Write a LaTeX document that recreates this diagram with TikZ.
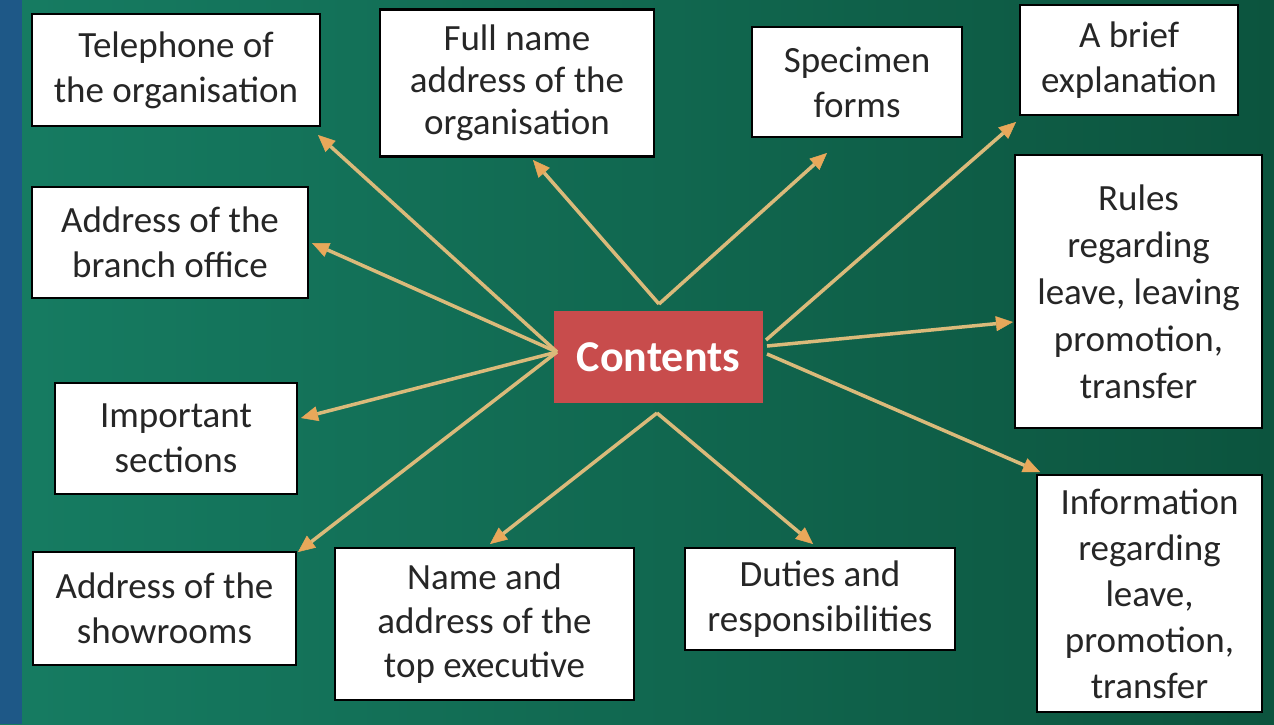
\documentclass[tikz,border=0pt]{standalone}
\usepackage{fontspec}
\setmainfont{Carlito}
\usetikzlibrary{arrows.meta}
\definecolor{bgL}{RGB}{22,124,98}
\definecolor{bgR}{RGB}{12,84,62}
\definecolor{stripc}{RGB}{30,88,135}
\definecolor{arrowc}{RGB}{218,186,122}
\definecolor{tipc}{RGB}{232,168,90}
\definecolor{redc}{RGB}{200,76,76}
\begin{document}
\begin{tikzpicture}[x=1pt,y=-1pt,
  box/.style={draw=black, line width=2.5pt, fill=white, align=center, text=black!85,
    font=\fontsize{37}{45}\selectfont, inner sep=0pt},
  conn/.style={draw=arrowc, line width=3.5pt,
    -{Triangle[length=17pt,width=15pt,color=tipc,fill=tipc,line width=0.5pt]}}]
\useasboundingbox (0,0) rectangle (1274,724);
\shade[left color=bgL, right color=bgR] (0,0) rectangle (1274,724);
\fill[stripc] (0,0) rectangle (22,724);
% nodes
\node[box, minimum width=288, minimum height=112] (tel) at (176,70) {Telephone of\\the organisation};
\node[box, minimum width=274, minimum height=147, font=\fontsize{37}{42}\selectfont] (full) at (517,83) {Full name\\address of the\\organisation};
\node[box, minimum width=210, minimum height=110] (spec) at (857,82) {Specimen\\forms};
\node[box, minimum width=218, minimum height=110] (brief) at (1129,60) {A brief\\explanation};
\node[box, minimum width=276, minimum height=111] (branch) at (170,242.5) {Address of the\\branch office};
\node[box, minimum width=247, minimum height=273, font=\fontsize{37}{47}\selectfont] (rules) at (1138.5,291.5) {Rules\\regarding\\leave, leaving\\promotion,\\transfer};
\node[box, minimum width=242, minimum height=111] (imp) at (176,438.5) {Important\\sections};
\node[fill=redc, minimum width=209, minimum height=92, inner sep=0pt, text=white,
  font=\fontsize{44}{50}\selectfont\bfseries] (contents) at (658.5,357) {Contents};
\node[box, minimum width=263, minimum height=113] (show) at (164.5,608.5) {Address of the\\showrooms};
\node[box, minimum width=299, minimum height=152, font=\fontsize{37}{44}\selectfont] (exec) at (484.5,624) {Name and\\address of the\\top executive};
\node[box, minimum width=270, minimum height=102] (duties) at (820,599) {Duties and\\responsibilities};
\node[box, minimum width=225, minimum height=237, font=\fontsize{37}{46}\selectfont] (info) at (1149.5,593.5) {Information\\regarding\\leave,\\promotion,\\transfer};
% arrow start and end points
\coordinate (cl) at (557,352);
\coordinate (ct) at (659,304);
\coordinate (cb) at (657,413);
\coordinate (cr1) at (766,340);
\coordinate (cr2) at (767,346);
\coordinate (cr3) at (767,354);
\coordinate (tTel) at (318,135);
\coordinate (tBranch) at (312,243);
\coordinate (tImp) at (301,418);
\coordinate (tShow) at (298,552);
\coordinate (tFull) at (533,160);
\coordinate (tSpec) at (827,153);
\coordinate (tExec) at (490,544);
\coordinate (tDuties) at (813,544);
\coordinate (tBrief) at (1016,122);
\coordinate (tRules) at (1013,322);
\coordinate (tInfo) at (1040,472);
\draw[conn] (cl) -- (tTel);
\draw[conn] (cl) -- (tBranch);
\draw[conn] (cl) -- (tImp);
\draw[conn] (cl) -- (tShow);
\draw[conn] (ct) -- (tFull);
\draw[conn] (ct) -- (tSpec);
\draw[conn] (cb) -- (tExec);
\draw[conn] (cb) -- (tDuties);
\draw[conn] (cr1) -- (tBrief);
\draw[conn] (cr2) -- (tRules);
\draw[conn] (cr3) -- (tInfo);
\end{tikzpicture}
\end{document}
